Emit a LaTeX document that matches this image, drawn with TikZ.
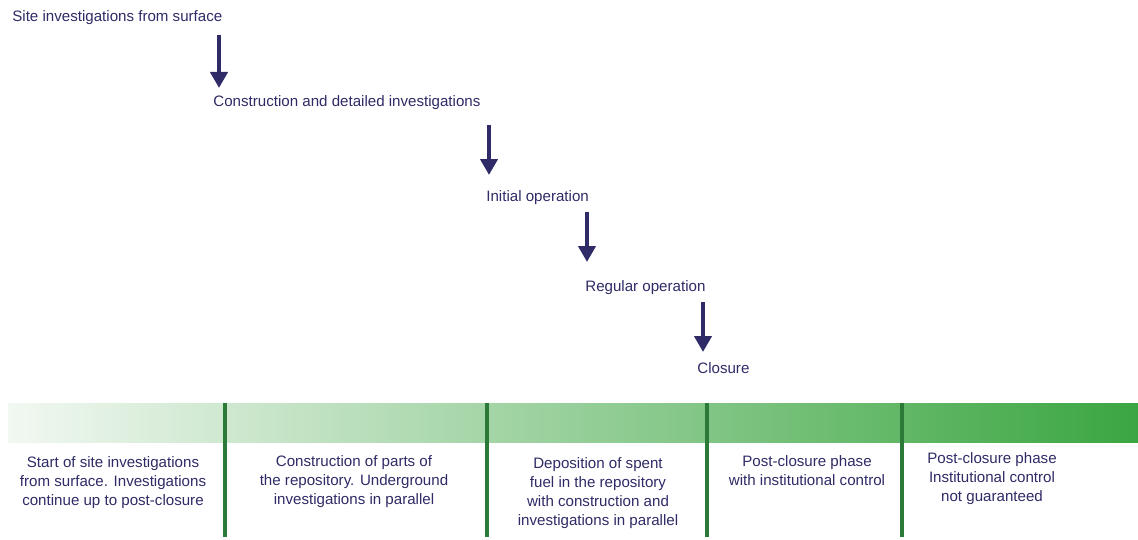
\documentclass[tikz,border=0pt]{standalone}
\usepackage{fontspec}
\setmainfont{Liberation Sans}
\usetikzlibrary{arrows.meta,positioning}
\definecolor{navy}{HTML}{2E2B66}
\definecolor{barlight}{HTML}{F2F8F2}
\definecolor{bardark}{HTML}{3BA641}
\definecolor{divgreen}{HTML}{2C7A38}
\tikzset{
    stage/.style={anchor=west, inner sep=0pt, text=navy, font=\fontsize{8.6}{10}\selectfont},
    phase/.style={anchor=north, align=center, inner sep=0pt, text=navy, font=\fontsize{8.6}{10.8}\selectfont},
    flow/.style={-{Triangle[width=0.34cm,length=0.32cm]}, line width=0.09cm, draw=navy},
    divider/.style={line width=0.08cm, draw=divgreen},
}

\begin{document}
\begin{tikzpicture}[x=0.02cm, y=-0.02cm]
    \useasboundingbox (0,0) rectangle (1138,540);

    % Stages
    \node[stage] (site)    at (12,18)   {Site investigations from surface};
    \node[stage] (constr)  at (213,103) {Construction and detailed investigations};
    \node[stage] (initial) at (486,198) {Initial operation};
    \node[stage] (regular) at (585,288) {Regular operation};
    \node[stage] (closure) at (697,368) {Closure};

    % Arrows
    \coordinate (a1) at (219,35);  \coordinate (b1) at (219,88);
    \coordinate (a2) at (489,125); \coordinate (b2) at (489,175);
    \coordinate (a3) at (587,212); \coordinate (b3) at (587,262);
    \coordinate (a4) at (703,302); \coordinate (b4) at (703,352);
    \foreach \i in {1,2,3,4} \draw[flow] (a\i) -- (b\i);

    % Time bar
    \shade[left color=barlight, right color=bardark] (8,403) rectangle (1138,442);
    \foreach \x in {225,487,707,902} \draw[divider] (\x,403) -- (\x,537);

    % Phases
    \node[phase] (p1) at (113,456) {Start of site investigations\\from surface. Investigations\\continue up to post-closure};
    \node[phase] (p2) at (354,455) {Construction of parts of\\the repository. Underground\\investigations in parallel};
    \node[phase] (p3) at (598,457) {Deposition of spent\\fuel in the repository\\with construction and\\investigations in parallel};
    \node[phase] (p4) at (807,455) {Post-closure phase\\with institutional control};
    \node[phase] (p5) at (992,452) {Post-closure phase\\Institutional control\\not guaranteed};
\end{tikzpicture}
\end{document}
